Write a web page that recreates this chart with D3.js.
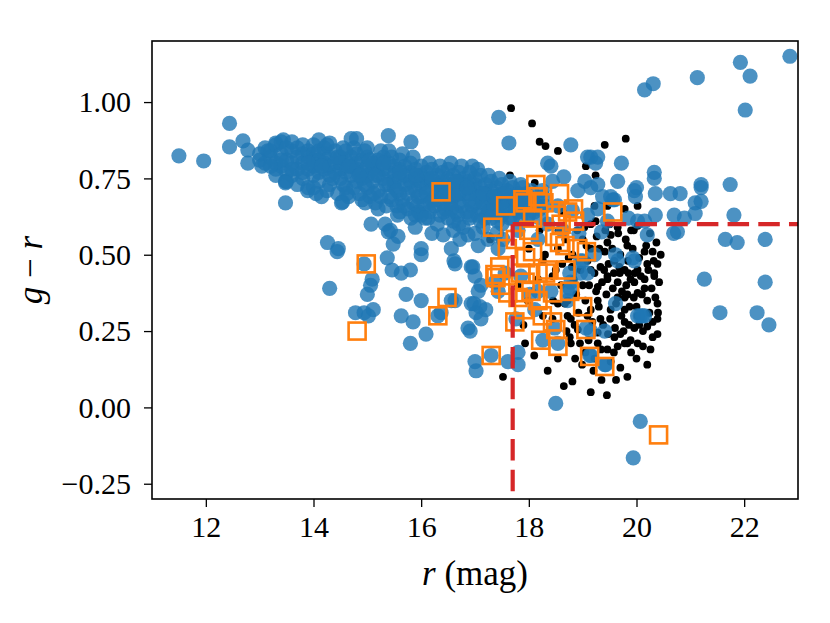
<!DOCTYPE html>
<html>
<head>
<meta charset="utf-8">
<script src="https://d3js.org/d3.v7.min.js"></script>
<style>
  body { margin: 0; background: #fff; }
  text { font-family: "Liberation Serif", "Times New Roman", serif; fill: #000; }
  .axis text { font-size: 30px; }
  .axis path { display: none; }
  .axis line { stroke: #000; stroke-width: 1.3; }
</style>
</head>
<body>
<svg width="830" height="623"></svg>
<script>
// x = r (mag), y = g - r
var xTicks = [12, 14, 16, 18, 20, 22];
var yTicks = [-0.25, 0, 0.25, 0.5, 0.75, 1.0];

// blue: bright sample
var bluePts = [
  [11.5,0.824],[11.96,0.807],[12.44,0.93],[12.44,0.853],[12.69,0.873],[12.78,0.843],[12.78,0.80],
  [13.04,0.79],[13.15,0.84],[13.3,0.866],[13.44,0.876],[13.48,0.74],[13.48,0.67],[13.89,0.71],
  [14.15,0.69],[14.54,0.673],[14.26,0.54],[14.46,0.52],
  [13.0,0.83],[13.0,0.81],[13.1,0.85],[13.1,0.80],[13.2,0.82],[13.2,0.84],[13.3,0.86],[13.3,0.80],[13.3,0.78],
  [13.4,0.83],[13.4,0.87],[13.4,0.79],[13.5,0.81],[13.5,0.85],[13.5,0.77],[13.6,0.84],[13.6,0.80],[13.6,0.76],[13.6,0.87],
  [13.7,0.82],[13.7,0.78],[13.7,0.85],[13.8,0.80],[13.8,0.83],[13.8,0.75],[13.8,0.86],[13.9,0.82],[13.9,0.78],[13.9,0.84],
  [14.0,0.79],[14.0,0.83],[14.0,0.76],[14.0,0.86],[14.0,0.81],[14.1,0.81],[14.1,0.77],[14.1,0.84],[14.1,0.74],
  [14.2,0.80],[14.2,0.83],[14.2,0.78],[14.2,0.85],[14.3,0.82],[14.3,0.76],[14.3,0.79],[14.3,0.73],
  [14.4,0.80],[14.4,0.84],[14.4,0.77],[14.5,0.78],[14.5,0.82],[14.5,0.75],[14.5,0.80],
  [14.6,0.81],[14.6,0.77],[14.6,0.84],[14.6,0.72],[14.7,0.79],[14.7,0.76],[14.7,0.82],
  [14.8,0.80],[14.8,0.74],[14.8,0.78],[14.8,0.83],[14.9,0.77],[14.9,0.81],[14.9,0.75],
  [15.0,0.79],[15.0,0.76],[15.0,0.82],[15.0,0.72],[15.0,0.85],[15.1,0.78],[15.1,0.74],[15.1,0.80],
  [15.2,0.76],[15.2,0.81],[15.2,0.79],[15.2,0.71],[15.3,0.78],[15.3,0.75],[15.3,0.82],
  [15.4,0.77],[15.4,0.73],[15.4,0.80],[15.4,0.84],[15.5,0.76],[15.5,0.79],[15.5,0.72],[15.5,0.74],
  [15.6,0.78],[15.6,0.75],[15.6,0.81],[15.6,0.70],[15.7,0.76],[15.7,0.73],[15.7,0.79],
  [15.8,0.77],[15.8,0.74],[15.8,0.72],[15.8,0.80],[15.9,0.75],[15.9,0.78],[15.9,0.71],
  [16.0,0.76],[16.0,0.73],[16.0,0.79],[16.0,0.69],[16.0,0.74],[16.1,0.75],[16.1,0.72],[16.1,0.77],
  [16.2,0.74],[16.2,0.71],[16.2,0.78],[16.2,0.68],[16.3,0.76],[16.3,0.73],[16.3,0.70],
  [16.4,0.74],[16.4,0.77],[16.4,0.71],[16.4,0.67],[16.5,0.73],[16.5,0.75],[16.5,0.70],[16.5,0.78],
  [16.6,0.72],[16.6,0.76],[16.6,0.69],[16.7,0.74],[16.7,0.71],[16.7,0.67],[16.7,0.77],
  [16.8,0.73],[16.8,0.70],[16.8,0.75],[16.9,0.72],[16.9,0.68],[16.9,0.74],[16.9,0.77],
  [17.0,0.71],[17.0,0.73],[17.0,0.67],[17.0,0.75],[17.1,0.72],[17.1,0.69],[17.1,0.65],[17.1,0.76],
  [17.2,0.70],[17.2,0.73],[17.2,0.67],[17.3,0.71],[17.3,0.68],[17.3,0.74],[17.3,0.64],
  [17.4,0.69],[17.4,0.72],[17.4,0.66],[17.5,0.70],[17.5,0.67],[17.5,0.73],[17.5,0.63],
  [17.6,0.68],[17.6,0.71],[17.6,0.65],[17.7,0.69],[17.7,0.66],[17.7,0.72],
  [17.8,0.67],[17.8,0.70],[17.8,0.64],[17.9,0.68],[17.9,0.65],[18.0,0.66],[18.0,0.69],[18.0,0.63],
  [18.1,0.67],[18.1,0.64],[18.2,0.65],[18.2,0.62],
  [13.3,0.76],[13.5,0.74],[13.7,0.73],[13.9,0.72],[13.6,0.78],[13.8,0.77],[14.0,0.72],[13.9,0.80],[13.4,0.81],[13.2,0.79],
  [14.05,0.70],[14.25,0.71],[14.45,0.70],[14.65,0.69],[14.85,0.70],[14.35,0.75],[14.55,0.73],[14.75,0.72],[14.95,0.73],
  [14.15,0.79],[14.45,0.82],[14.65,0.79],[14.85,0.76],[14.25,0.86],[14.55,0.85],[14.75,0.85],[14.95,0.84],
  [15.05,0.69],[15.15,0.67],[15.25,0.69],[15.35,0.66],[15.45,0.68],[15.55,0.66],[15.65,0.68],[15.75,0.65],
  [15.85,0.67],[15.95,0.64],[15.15,0.76],[15.35,0.73],[15.55,0.71],[15.75,0.70],[15.95,0.69],[15.25,0.84],
  [15.45,0.82],[15.65,0.83],[15.85,0.82],[15.05,0.81],[15.3,0.80],[15.6,0.77],[15.9,0.76],
  [16.05,0.66],[16.15,0.64],[16.25,0.66],[16.35,0.63],[16.45,0.65],[16.55,0.67],[16.65,0.64],[16.75,0.66],
  [16.85,0.64],[16.95,0.66],[16.1,0.70],[16.3,0.68],[16.5,0.69],[16.7,0.70],[16.9,0.70],[16.15,0.80],
  [16.35,0.79],[16.55,0.80],[16.75,0.79],[16.95,0.79],[16.2,0.75],[16.45,0.72],[16.65,0.74],[16.85,0.72],
  [17.05,0.63],[17.15,0.67],[17.25,0.64],[17.35,0.66],[17.45,0.63],[17.55,0.66],[17.65,0.62],[17.75,0.65],
  [17.85,0.62],[17.95,0.66],[17.05,0.78],[17.25,0.76],[17.45,0.75],[17.65,0.74],[17.85,0.73],[18.05,0.71],
  [17.15,0.70],[17.35,0.69],[17.55,0.70],[17.75,0.68],[17.95,0.70],[18.15,0.68],[18.25,0.71],[18.3,0.66],
  [14.62,0.70],[14.9,0.68],[15.12,0.70],[15.4,0.69],[15.68,0.66],[15.92,0.66],[16.18,0.67],[16.42,0.64],
  [16.68,0.63],[16.92,0.63],[17.18,0.62],[17.42,0.61],[15.2,0.65],[15.6,0.64],[16.0,0.63],[16.6,0.61],
  [14.1,0.876],[14.3,0.866],[14.7,0.88],[14.8,0.88],[15.39,0.89],[15.81,0.87],[17.44,0.95],[17.63,0.866],
  [13.48,0.735],[14.96,0.67],[14.52,0.67],
  [15.07,0.60],[15.33,0.60],[15.43,0.58],[15.57,0.56],[15.56,0.63],[15.89,0.63],[16.13,0.62],[15.81,0.62],
  [16.07,0.62],[16.56,0.65],[16.0,0.52],[15.39,0.575],[15.48,0.535],[15.89,0.59],
  [16.63,0.47],[16.96,0.46],[16.61,0.48],[16.56,0.52],[16.93,0.46],[16.72,0.55],[16.87,0.565],[17.06,0.53],
  [17.24,0.55],[17.43,0.52],[17.52,0.55],[17.15,0.59],[16.78,0.59],[16.41,0.565],
  [16.5,0.62],[16.7,0.60],[16.9,0.62],[17.1,0.61],[17.3,0.62],[17.5,0.60],[17.7,0.62],[16.6,0.58],
  [17.0,0.57],[17.4,0.57],[17.8,0.58],[16.3,0.60],[16.2,0.57],
  [17.0,0.43],[17.11,0.40],[17.06,0.38],[16.93,0.34],[17.09,0.33],[17.2,0.32],[17.02,0.31],[17.11,0.29],
  [16.87,0.26],[16.91,0.25],[16.56,0.35],[16.37,0.31],[17.0,0.15],[17.02,0.12],[17.3,0.17],[17.61,0.15],
  [17.8,0.18],[17.8,0.14],[17.76,0.29],[18.11,0.32],[18.26,0.22],[18.54,0.21],[18.48,0.26],[19.06,0.26],
  [19.41,0.25],[19.61,0.34],[20.07,0.30],[20.15,0.30],[19.41,0.14],[19.13,0.17],[18.96,0.44],[18.76,0.39],
  [18.41,0.38],[18.72,0.35],[18.17,0.38],[18.02,0.37],[17.43,0.38],[17.37,0.41],[17.56,0.44],[17.85,0.43],
  [18.96,0.48],[19.65,0.48],[19.96,0.48],
  [14.44,0.51],[14.94,0.47],[14.3,0.39],[15.09,0.42],[15.06,0.40],[15.0,0.37],[14.78,0.31],[14.94,0.31],
  [15.11,0.32],[15.02,0.30],[15.37,0.49],[15.46,0.45],[15.63,0.44],[15.8,0.45],[16.0,0.50],[15.72,0.37],
  [16.0,0.35],[15.63,0.30],[15.85,0.28],[16.09,0.24],[15.8,0.21],[16.31,0.30],[16.63,0.35],[16.98,0.34],
  [19.28,0.82],[19.15,0.82],[19.72,0.80],[18.78,0.86],[18.35,0.80],[18.41,0.79],[19.09,0.82],[19.24,0.80],
  [18.65,0.755],[19.04,0.74],[19.15,0.72],[19.65,0.74],[19.96,0.71],[19.37,0.69],[19.56,0.68],[20.33,0.77],
  [20.33,0.75],[20.0,0.72],[19.98,0.69],[20.35,0.70],[20.63,0.70],[20.81,0.70],[21.2,0.73],[21.2,0.72],
  [21.74,0.73],[21.09,0.67],[21.2,0.675],[20.35,0.63],[20.7,0.63],[20.89,0.62],[21.09,0.635],[21.81,0.63],
  [20.2,0.565],[20.76,0.575],[21.65,0.55],[22.39,0.55],[19.52,0.69],[19.59,0.68],[20.15,0.61],[20.02,0.61],
  [19.85,0.62],[20.69,0.57],[19.35,0.575],[19.61,0.50],[19.93,0.49],[19.09,0.44],[20.11,0.30],[20.02,0.30],
  [19.15,0.25],[19.15,0.17],[19.43,0.14],[18.76,0.44],[18.78,0.41],[18.72,0.38],[19.0,0.48],[19.22,0.50],
  [22.85,1.15],[21.93,1.13],[22.11,1.085],[21.13,1.08],[20.31,1.06],[20.15,1.04],[22.02,0.974],
  [21.87,0.54],[21.26,0.42],[22.39,0.41],[21.55,0.31],[22.24,0.31],[22.46,0.27],
  [18.5,0.013],[20.07,-0.046],[19.94,-0.165],
  [17.8,0.675],[18.26,0.69],[18.54,0.66],[18.81,0.645],[19.09,0.63],[17.98,0.63],[18.35,0.60],[18.63,0.58],
  [18.17,0.55],[18.93,0.57],[19.28,0.65],[19.46,0.61],[17.89,0.72],[18.44,0.74],[18.91,0.71],[19.28,0.73]
];

// black: faint sample
var blackPts = [
  [17.67,0.98],[18.06,0.93],[18.2,0.87],[18.31,0.856],[18.54,0.84],[19.41,0.86],[19.8,0.88],[19.06,0.79],
  [19.24,0.76],[17.65,0.76],[19.22,0.66],[18.11,0.735],[17.28,0.55],
  [20.37,0.54],[19.83,0.53],[20.15,0.51],[20.3,0.51],[19.52,0.565],[19.46,0.54],[19.41,0.51],[20.2,0.47],
  [20.39,0.47],[20.02,0.45],[19.78,0.45],[20.33,0.43],[19.65,0.41],[19.96,0.41],[20.15,0.39],[19.83,0.37],
  [20.2,0.35],[19.46,0.42],[19.28,0.395],[19.28,0.35],[19.52,0.32],[19.78,0.32],[20.02,0.30],[20.39,0.29],
  [19.78,0.28],[19.96,0.26],[20.2,0.265],[19.7,0.24],[20.39,0.24],[19.89,0.22],[19.78,0.21],[19.65,0.20],
  [20.02,0.21],[20.26,0.19],[19.28,0.245],[19.33,0.29],[19.15,0.32],[19.22,0.16],[19.52,0.15],[19.83,0.10],
  [18.81,0.085],[19.15,0.05],[18.78,0.21],[18.72,0.30],[18.72,0.35],[19.33,0.46],[19.59,0.48],[19.65,0.36],
  [19.15,0.45],[17.52,0.10],[17.93,0.21],[19.59,0.23],[19.83,0.21],[19.22,0.44],[19.46,0.43],[19.69,0.44],
  [19.89,0.42],[20.15,0.42],[20.33,0.44],[20.02,0.375],[20.39,0.34],[19.78,0.36],[18.96,0.45],[19.09,0.30],
  [18.67,0.34],[18.78,0.29],[18.76,0.23],[19.28,0.21],[19.46,0.19],[18.54,0.34],
  [19.24,0.61],[19.65,0.59],[20.02,0.595],[19.0,0.55],[18.54,0.52],[18.81,0.50],[19.09,0.48],[18.26,0.48],
  [18.44,0.43],[18.17,0.42],[17.98,0.35],[17.8,0.40],[18.26,0.30],[18.44,0.29],[18.91,0.255],[18.54,0.16],
  [19.46,0.66],[19.78,0.65],[20.02,0.66],[18.63,0.64],
  [18.55,0.58],[18.62,0.47],[18.68,0.55],[18.74,0.49],[18.83,0.42],[18.88,0.37],[18.92,0.31],[18.85,0.27],
  [18.95,0.21],[18.99,0.14],[19.03,0.59],[19.07,0.53],[19.12,0.40],[19.05,0.35],[19.18,0.28],[19.11,0.22],
  [19.2,0.12],[19.26,0.56],[19.31,0.52],[19.36,0.41],[19.3,0.33],[19.38,0.27],[19.34,0.19],[19.42,0.58],
  [19.48,0.47],[19.44,0.37],[19.51,0.29],[19.47,0.24],[19.55,0.52],[19.58,0.44],[19.56,0.39],[19.62,0.34],
  [19.6,0.26],[19.66,0.57],[19.7,0.50],[19.68,0.46],[19.73,0.38],[19.72,0.30],[19.76,0.25],[19.8,0.55],
  [19.84,0.48],[19.81,0.40],[19.87,0.33],[19.86,0.27],[19.9,0.18],[19.93,0.52],[19.97,0.44],[19.95,0.36],
  [20.0,0.33],[20.05,0.49],[20.08,0.43],[20.1,0.37],[20.12,0.25],[20.18,0.53],[20.22,0.45],[20.24,0.31],
  [20.28,0.39],[20.32,0.48],[20.35,0.36],[20.4,0.31],[20.42,0.41],[20.3,0.23],[20.12,0.20],[19.58,0.18],
  [19.05,0.18],[18.86,0.16],[19.0,0.40],[18.6,0.40],[18.5,0.45],[18.3,0.50],[18.9,0.58],[19.15,0.60],
  [19.5,0.60],[19.9,0.58],[20.25,0.57],[20.45,0.50],[18.7,0.25],[18.45,0.35],[19.35,0.09],[19.7,0.13],
  [18.2,0.58],[18.0,0.52],[17.9,0.27],[18.35,0.12],[18.65,0.07],[19.45,0.04],[19.62,0.09],[20.2,0.14],
  [20.0,0.16],[18.1,0.17],[19.25,0.38],[19.4,0.45],[19.85,0.44],[20.05,0.27],[19.15,0.52],[18.8,0.46],
  [20.3,0.28],[19.95,0.58]
];

// orange: selected targets
var orangePts = [
  [16.37,0.706],[14.98,0.47],[14.81,0.25],[16.31,0.30],[16.48,0.36],[17.3,0.17],[17.33,0.59],[17.57,0.66],
  [18.13,0.73],[18.57,0.70],[17.93,0.67],[18.28,0.67],[18.72,0.64],[18.83,0.65],[19.56,0.64],[18.48,0.56],
  [18.57,0.54],[18.67,0.53],[19.07,0.51],[18.91,0.52],[18.07,0.51],[17.94,0.49],[17.46,0.46],[17.37,0.435],
  [18.35,0.45],[17.85,0.44],[18.17,0.44],[17.39,0.425],[17.48,0.40],[17.93,0.41],[18.04,0.38],[17.74,0.28],
  [18.22,0.22],[18.5,0.255],[18.54,0.20],[18.44,0.375],[18.76,0.38],[18.69,0.45],[19.0,0.33],[19.06,0.255],
  [19.13,0.167],[19.41,0.134],[18.44,0.28],[18.31,0.44],[18.17,0.35],[17.8,0.36],[17.61,0.375],[20.41,-0.09],
  [17.89,0.68],[18.17,0.69],[18.07,0.62],[17.75,0.55],[18.0,0.58],[18.6,0.60],[18.85,0.61],[17.6,0.52],
  [18.25,0.30],[17.9,0.32],[18.5,0.63]
];

// dashed cut: r limit and colour limit
var rCut = 17.7;
var grCut = 0.6;

var W = 830, H = 623;
var margin = {top: 41, right: 32, bottom: 124, left: 152};
var w = W - margin.left - margin.right;
var h = H - margin.top - margin.bottom;

var svg = d3.select('svg');
var g = svg.append('g').attr('transform', 'translate(' + margin.left + ',' + margin.top + ')');

var x = d3.scaleLinear().domain([11, 23]).range([0, w]);
var y = d3.scaleLinear().domain([-0.3, 1.2]).range([h, 0]);

svg.append('defs').append('clipPath').attr('id', 'clip')
  .append('rect').attr('width', w).attr('height', h);

var plot = g.append('g').attr('clip-path', 'url(#clip)');

plot.selectAll('circle.faint')
  .data(blackPts)
  .enter().append('circle')
  .attr('class', 'faint')
  .attr('cx', function(d) { return x(d[0]); })
  .attr('cy', function(d) { return y(d[1]); })
  .attr('r', 3.9)
  .attr('fill', '#000');

plot.selectAll('circle.bright')
  .data(bluePts)
  .enter().append('circle')
  .attr('class', 'bright')
  .attr('cx', function(d) { return x(d[0]); })
  .attr('cy', function(d) { return y(d[1]); })
  .attr('r', 7.6)
  .attr('fill', '#1f77b4')
  .attr('fill-opacity', 0.8);

var sq = 17;
plot.selectAll('rect.target')
  .data(orangePts)
  .enter().append('rect')
  .attr('class', 'target')
  .attr('x', function(d) { return x(d[0]) - sq / 2; })
  .attr('y', function(d) { return y(d[1]) - sq / 2; })
  .attr('width', sq)
  .attr('height', sq)
  .attr('fill', 'none')
  .attr('stroke', '#ff7f0e')
  .attr('stroke-width', 2.6);

// cut lines
plot.append('line')
  .attr('x1', x(rCut)).attr('x2', x(rCut))
  .attr('y1', y(grCut)).attr('y2', y(-0.3) + 3)
  .attr('stroke', '#d62728').attr('stroke-width', 4.2)
  .attr('stroke-dasharray', '21.5,9.2');

plot.append('line')
  .attr('x1', x(rCut)).attr('x2', x(23) + 10)
  .attr('y1', y(grCut)).attr('y2', y(grCut))
  .attr('stroke', '#d62728').attr('stroke-width', 4.2)
  .attr('stroke-dasharray', '21.5,9.2');

// axes
g.append('g')
  .attr('class', 'axis')
  .attr('transform', 'translate(0,' + h + ')')
  .call(d3.axisBottom(x).tickValues(xTicks).tickSize(8).tickPadding(9));

g.append('g')
  .attr('class', 'axis')
  .call(d3.axisLeft(y).tickValues(yTicks).tickSize(8).tickPadding(13).tickFormat(d3.format('.2f')));

g.append('rect')
  .attr('width', w).attr('height', h)
  .attr('fill', 'none')
  .attr('stroke', '#000')
  .attr('stroke-width', 1.6);

// axis labels
var xl = g.append('text')
  .attr('x', w / 2)
  .attr('y', h + 86)
  .attr('text-anchor', 'middle')
  .style('font-size', '35px');
xl.append('tspan').style('font-style', 'italic').text('r');
xl.append('tspan').text(' (mag)');

var yl = g.append('text')
  .attr('transform', 'translate(' + (-110) + ',' + (h / 2) + ') rotate(-90)')
  .attr('text-anchor', 'middle')
  .style('font-size', '35px');
yl.append('tspan').style('font-style', 'italic').text('g');
yl.append('tspan').text(' \u2212 ');
yl.append('tspan').style('font-style', 'italic').text('r');
</script>
</body>
</html>
